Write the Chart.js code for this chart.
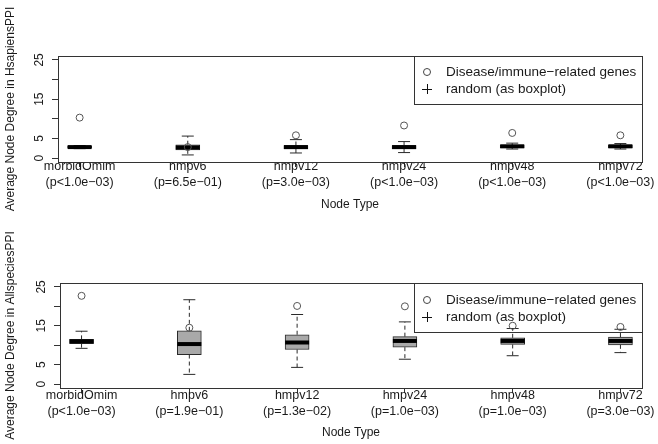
<!DOCTYPE html>
<html>
<head>
<meta charset="utf-8">
<script src="https://cdn.jsdelivr.net/npm/chart.js@4.4.0/dist/chart.umd.min.js"></script>
<style>
  body { margin: 0; background: #fff; }
  #wrap { position: relative; width: 658px; height: 444px; overflow: hidden; background: #fff; }
  canvas { position: absolute; left: 0; }
</style>
</head>
<body>
<div id="wrap">
  <canvas id="chart-top" width="658" height="215" style="top:0"></canvas>
  <canvas id="chart-bottom" width="658" height="229" style="top:215px"></canvas>
</div>
<script>
// --- Data ---
const categories = ['morbidOmim', 'hmpv6', 'hmpv12', 'hmpv24', 'hmpv48', 'hmpv72'];
const xPos = [1, 2, 3, 4, 5, 6];
const yTicks = [0, 5, 10, 15, 20, 25];
const yTickLabels = [0, 5, 15, 25];
const legendLabels = ['Disease/immune\u2212related genes', 'random (as boxplot)'];

// HsapiensPPI panel
const pTop = ['p<1.0e\u221203', 'p=6.5e\u221201', 'p=3.0e\u221203', 'p<1.0e\u221203', 'p<1.0e\u221203', 'p<1.0e\u221203'];
const diseaseTop = [10.3, 2.8, 5.8, 8.3, 6.4, 5.8];
const lowTop = [2.4, 0.8, 1.3, 1.4, 2.3, 2.3];
const q1Top = [2.6, 2.1, 2.3, 2.3, 2.6, 2.6];
const medTop = [2.8, 2.7, 2.8, 2.8, 3.0, 3.0];
const q3Top = [3.0, 3.4, 3.2, 3.2, 3.3, 3.3];
const highTop = [3.2, 5.6, 4.7, 4.2, 3.8, 3.7];

// AllspeciesPPI panel
const pBottom = ['p<1.0e\u221203', 'p=1.9e\u221201', 'p=1.3e\u221202', 'p=1.0e\u221203', 'p=1.0e\u221203', 'p=3.0e\u221203'];
const diseaseBottom = [22.7, 14.5, 20.1, 20.0, 15.0, 14.7];
const lowBottom = [9.2, 2.5, 4.3, 6.4, 7.3, 8.1];
const q1Bottom = [10.4, 7.6, 8.9, 9.5, 10.2, 10.1];
const medBottom = [11.0, 10.3, 10.7, 11.1, 11.1, 11.1];
const q3Bottom = [11.5, 13.7, 12.7, 12.2, 11.9, 12.1];
const highBottom = [13.6, 21.7, 17.9, 16.0, 14.3, 14.1];

// --- Styling ---
const FONT = '"Liberation Sans", Arial, Helvetica, sans-serif';
const TEXT = '#1a1a1a';
const LINE = '#2a2a2a';
const BOX_FILL = '#a9a9a9';

function boxDatasets(q1, med, q3, low, high, disease) {
    const whiskers = [];
    const caps = [];
    xPos.forEach((x, i) => {
        whiskers.push({ x, y: q3[i] }, { x, y: high[i] }, { x, y: null });
        whiskers.push({ x, y: q1[i] }, { x, y: low[i] }, { x, y: null });
        caps.push({ x, y: high[i] }, { x, y: low[i] });
    });
    return [
        {
            type: 'bar', order: 5,
            data: xPos.map((x, i) => ({ x, y: [q1[i], q3[i]] })),
            backgroundColor: BOX_FILL, borderColor: LINE, borderWidth: 1,
            borderSkipped: false, barThickness: 24
        },
        {
            type: 'line', order: 4, data: whiskers,
            borderColor: LINE, borderWidth: 1, borderDash: [4, 3],
            pointRadius: 0, spanGaps: false
        },
        {
            type: 'line', order: 3, data: caps, showLine: false,
            pointStyle: 'line', pointRadius: 6, pointBorderWidth: 1, borderColor: LINE
        },
        {
            type: 'line', order: 2,
            data: xPos.map((x, i) => ({ x, y: med[i] })), showLine: false,
            pointStyle: 'line', pointRadius: 12, pointBorderWidth: 4, borderColor: '#000'
        },
        {
            type: 'line', order: 1,
            data: xPos.map((x, i) => ({ x, y: disease[i] })), showLine: false,
            pointStyle: 'circle', pointRadius: 3.5, pointBorderWidth: 1,
            borderColor: '#555', backgroundColor: 'rgba(0,0,0,0)'
        }
    ];
}

// Frame around the plot region, rotated y tick labels, and the R-style legend
const panelDecor = {
    id: 'panelDecor',
    afterDatasetsDraw(chart) {
        const { ctx, chartArea: ca } = chart;
        const lg = chart.options.plugins.panelDecor;
        ctx.save();
        ctx.strokeStyle = '#333';
        ctx.lineWidth = 1;
        ctx.strokeRect(Math.round(ca.left) + 0.5, Math.round(ca.top) + 0.5,
            Math.round(ca.right - ca.left), Math.round(ca.bottom - ca.top));

        // legend
        ctx.font = '13.5px ' + FONT;
        const tw = Math.max(...legendLabels.map(t => ctx.measureText(t).width));
        const w = tw + 38, h = lg.legendHeight;
        const lx = Math.round(ca.right - w), ly = Math.round(ca.top);
        ctx.strokeRect(lx + 0.5, ly + 0.5, Math.round(w), h);
        const r1 = ly + lg.row1, r2 = ly + lg.row2;
        ctx.strokeStyle = '#444';
        ctx.beginPath();
        ctx.arc(lx + 13, r1, 3.5, 0, Math.PI * 2);
        ctx.stroke();
        ctx.strokeStyle = '#111';
        ctx.beginPath();
        ctx.moveTo(lx + 8, r2 + 0.5); ctx.lineTo(lx + 18, r2 + 0.5);
        ctx.moveTo(lx + 13.5, r2 - 5); ctx.lineTo(lx + 13.5, r2 + 5);
        ctx.stroke();
        ctx.fillStyle = TEXT;
        ctx.textAlign = 'left';
        ctx.textBaseline = 'middle';
        ctx.fillText(legendLabels[0], lx + 32, r1);
        ctx.fillText(legendLabels[1], lx + 32, r2);

        // rotated y tick labels (R draws them parallel to the axis)
        const ys = chart.scales.y;
        ctx.font = '12px ' + FONT;
        ctx.textAlign = 'center';
        yTickLabels.forEach(v => {
            const py = ys.getPixelForValue(v);
            ctx.save();
            ctx.translate(ys.right - 18, py);
            ctx.rotate(-Math.PI / 2);
            ctx.fillText(String(v), 0, 0);
            ctx.restore();
        });
        ctx.restore();
    }
};

function makePanel(canvasId, opts) {
    const ctx = document.getElementById(canvasId).getContext('2d');
    return new Chart(ctx, {
        type: 'bar',
        data: { datasets: boxDatasets(opts.q1, opts.med, opts.q3, opts.low, opts.high, opts.disease) },
        plugins: [panelDecor],
        options: {
            responsive: false,
            animation: false,
            devicePixelRatio: 1,
            layout: { padding: opts.padding },
            plugins: {
                legend: { display: false },
                tooltip: { enabled: false },
                panelDecor: opts.legend
            },
            scales: {
                x: {
                    type: 'linear', min: 0.8, max: 6.2, offset: false,
                    afterBuildTicks: s => { s.ticks = xPos.map(v => ({ value: v })); },
                    afterFit: s => { s.height = opts.xHeight; s.paddingLeft = 0; s.paddingRight = 0; },
                    ticks: {
                        autoSkip: false, maxRotation: 0, minRotation: 0,
                        padding: opts.xTickPad,
                        color: TEXT,
                        font: { family: FONT, size: 12.5, lineHeight: 1.3 },
                        callback: (v, i) => [categories[i], '(' + opts.pvals[i] + ')']
                    },
                    grid: { drawOnChartArea: false, drawTicks: true, tickLength: 5, color: '#333', offset: false },
                    border: { display: false },
                    title: {
                        display: true, text: 'Node Type', color: TEXT,
                        font: { family: FONT, size: 12 },
                        padding: { top: 0, bottom: opts.xTitlePad }
                    }
                },
                y: {
                    type: 'linear', min: -1, max: 26,
                    afterBuildTicks: s => { s.ticks = yTicks.map(v => ({ value: v })); },
                    afterFit: s => { s.width = opts.yWidth; },
                    ticks: { display: false },
                    grid: { drawOnChartArea: false, drawTicks: true, tickLength: 6, color: '#333' },
                    border: { display: false },
                    title: {
                        display: true, text: opts.yTitle, color: TEXT,
                        font: { family: FONT, size: 12 },
                        padding: { top: 3, bottom: 0 }
                    }
                }
            }
        }
    });
}

makePanel('chart-top', {
    q1: q1Top, med: medTop, q3: q3Top, low: lowTop, high: highTop, disease: diseaseTop,
    pvals: pTop,
    yTitle: 'Average Node Degree in HsapiensPPI',
    padding: { left: 0, right: 11, top: 56, bottom: 0 },
    yWidth: 58, xHeight: 53, xTickPad: -8.5, xTitlePad: 2.8,
    legend: { legendHeight: 48, row1: 16, row2: 33 }
});

makePanel('chart-bottom', {
    q1: q1Bottom, med: medBottom, q3: q3Bottom, low: lowBottom, high: highBottom, disease: diseaseBottom,
    pvals: pBottom,
    yTitle: 'Average Node Degree in AllspeciesPPI',
    padding: { left: 0, right: 10, top: 68, bottom: 0 },
    yWidth: 60, xHeight: 56, xTickPad: -6, xTitlePad: 3.8,
    legend: { legendHeight: 49, row1: 17, row2: 34 }
});
</script>
</body>
</html>
